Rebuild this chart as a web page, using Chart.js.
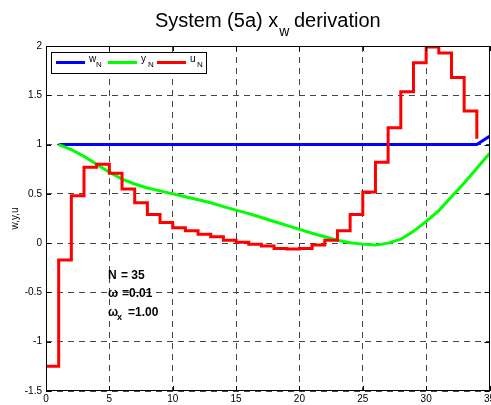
<!DOCTYPE html>
<html>
<head>
<meta charset="utf-8">
<script src="https://cdn.jsdelivr.net/npm/chart.js@4.4.1/dist/chart.umd.min.js"></script>
<style>
  body { margin: 0; background: #fff; }
  #wrap { width: 491px; height: 405px; }
</style>
</head>
<body>
<div id="wrap"><canvas id="sysChart" width="491" height="405"></canvas></div>
<script>
// Data
const uSteps = [0,1,2,3,4,5,6,7,8,9,10,11,12,13,14,15,16,17,18,19,20,21,22,23,24,25,26,27,28,29,30,31,32,33,34];
const uValues = [-1.25,-0.17,0.48,0.77,0.80,0.71,0.55,0.41,0.29,0.21,0.155,0.125,0.09,0.064,0.03,0.01,-0.01,-0.03,-0.054,-0.06,
                 -0.054,-0.02,0.03,0.125,0.29,0.52,0.82,1.17,1.535,1.83,1.99,1.93,1.68,1.34,1.06];
const ySteps = [1,2,3,4,5,6,7,8,9,10,11,12,13,14,15,16,17,18,19,20,21,22,23,24,25,26,27,28,29,30,31,32,33,34,35];
const wValues = [1,1,1,1,1,1,1,1,1,1,1,1,1,1,1,1,1,1,1,1,1,1,1,1,1,1,1,1,1,1,1,1,1,1,1.085];
const yValues = [1.0,0.95,0.88,0.80,0.72,0.65,0.60,0.56,0.53,0.50,0.47,0.44,0.41,0.37,0.335,0.30,0.26,0.22,0.18,0.14,
                 0.10,0.065,0.03,0.005,-0.01,-0.02,0.0,0.04,0.12,0.22,0.33,0.47,0.61,0.76,0.91];
const xTicks = [0,5,10,15,20,25,30,35];
const yTicks = [-1.5,-1,-0.5,0,0.5,1,1.5,2];

const toPoints = (xs, vs) => xs.map((x, i) => ({ x: x, y: vs[i] }));
const FONT = 'Arial, "Liberation Sans", sans-serif';

// Frame, inside ticks, title, axis label, legend and annotation text
const decorations = {
    id: 'decorations',
    afterDatasetsDraw(chart) {
        const { ctx, chartArea: a, scales } = chart;
        ctx.save();
        ctx.strokeStyle = '#000';
        ctx.lineWidth = 1;
        ctx.setLineDash([]);
        ctx.strokeRect(Math.round(a.left) + 0.5, Math.round(a.top) + 0.5,
                       Math.round(a.right - a.left) - 1, Math.round(a.bottom - a.top) - 1);
        ctx.beginPath();
        xTicks.forEach(v => {
            const px = Math.round(scales.x.getPixelForValue(v)) + 0.5;
            ctx.moveTo(px, a.bottom); ctx.lineTo(px, a.bottom - 5);
            ctx.moveTo(px, a.top); ctx.lineTo(px, a.top + 5);
        });
        yTicks.forEach(v => {
            const py = Math.round(scales.y.getPixelForValue(v)) + 0.5;
            ctx.moveTo(a.left, py); ctx.lineTo(a.left + 5, py);
            ctx.moveTo(a.right, py); ctx.lineTo(a.right - 5, py);
        });
        ctx.stroke();

        // legend
        const lx = 51, ly = 52, lw = 155, lh = 21;
        ctx.fillStyle = '#fff';
        ctx.fillRect(lx, ly, lw, lh);
        ctx.strokeRect(lx + 0.5, ly + 0.5, lw, lh);
        const entries = [
            { color: '#0000ff', x0: 56, label: 'w' },
            { color: '#00ff00', x0: 108, label: 'y' },
            { color: '#ff0000', x0: 157, label: 'u' }
        ];
        entries.forEach(e => {
            ctx.strokeStyle = e.color;
            ctx.lineWidth = 3;
            ctx.beginPath();
            ctx.moveTo(e.x0, ly + 10.5);
            ctx.lineTo(e.x0 + 29, ly + 10.5);
            ctx.stroke();
            ctx.fillStyle = '#000';
            ctx.textAlign = 'left';
            ctx.textBaseline = 'alphabetic';
            ctx.font = '10px ' + FONT;
            ctx.fillText(e.label, e.x0 + 33, ly + 10);
            ctx.font = '8px ' + FONT;
            ctx.fillText('N', e.x0 + 40, ly + 15);
        });

        // title
        ctx.fillStyle = '#000';
        ctx.font = '20px ' + FONT;
        ctx.textAlign = 'left';
        const t1 = 'System (5a) x', t2 = 'derivation';
        ctx.font = '20px ' + FONT;
        const w1 = ctx.measureText(t1).width;
        const w3 = ctx.measureText(' ' + t2).width;
        ctx.font = '14px ' + FONT;
        const w2 = ctx.measureText('w').width;
        const tx = (a.left + a.right) / 2 - (w1 + w2 + w3) / 2;
        ctx.font = '20px ' + FONT;
        ctx.fillText(t1, tx, 27);
        ctx.fillText(' ' + t2, tx + w1 + w2, 27);
        ctx.font = '14px ' + FONT;
        ctx.fillText('w', tx + w1 + 1, 36);

        // y axis label
        ctx.save();
        ctx.translate(18, (a.top + a.bottom) / 2);
        ctx.rotate(-Math.PI / 2);
        ctx.textAlign = 'center';
        ctx.font = '10px ' + FONT;
        ctx.fillText('w,y,u', 0, 0);
        ctx.restore();

        // annotation text
        ctx.textAlign = 'left';
        ctx.font = 'bold 12px ' + FONT;
        ctx.fillText('N', 108, 279);
        ctx.fillText('= 35', 121, 279);
        ctx.fillText('\u03c9', 108, 297);
        ctx.fillText('=0.01', 122, 297);
        ctx.fillText('\u03c9', 108, 316);
        ctx.fillText('=1.00', 128, 316);
        ctx.font = 'bold 9px ' + FONT;
        ctx.fillText('x', 117, 320);
        ctx.restore();
    }
};

const ctx = document.getElementById('sysChart').getContext('2d');
new Chart(ctx, {
    type: 'line',
    data: {
        datasets: [
            { label: 'wN', data: toPoints(ySteps, wValues), borderColor: '#0000ff', borderWidth: 3, order: 3 },
            { label: 'yN', data: toPoints(ySteps, yValues), borderColor: '#00ff00', borderWidth: 3, order: 2 },
            { label: 'uN', data: toPoints(uSteps, uValues), borderColor: '#ff0000', borderWidth: 3, stepped: 'before', order: 1 }
        ]
    },
    options: {
        responsive: false,
        animation: false,
        devicePixelRatio: 1,
        pointRadius: 0,
        elements: { point: { radius: 0 }, line: { tension: 0, borderJoinStyle: 'miter' } },
        layout: { padding: { top: 46, right: 1.5, bottom: 0, left: 0 } },
        plugins: {
            legend: { display: false },
            tooltip: { enabled: false }
        },
        scales: {
            x: {
                type: 'linear',
                min: 0,
                max: 35,
                afterBuildTicks: s => { s.ticks = xTicks.map(v => ({ value: v })); },
                afterFit: s => { s.height = 14; s.paddingLeft = 0; s.paddingRight = 0; },
                ticks: { font: { size: 10, family: FONT }, color: '#000', padding: 2, maxRotation: 0, autoSkip: false },
                grid: { color: '#444', lineWidth: 1, drawTicks: false },
                border: { display: false, dash: [6, 5] }
            },
            y: {
                min: -1.5,
                max: 2,
                afterBuildTicks: s => { s.ticks = yTicks.map(v => ({ value: v })); },
                afterFit: s => { s.width = 46; s.paddingTop = 0; s.paddingBottom = 0; },
                ticks: { font: { size: 10, family: FONT }, color: '#000', padding: 4, autoSkip: false,
                         callback: v => String(v) },
                grid: { color: '#444', lineWidth: 1, drawTicks: false },
                border: { display: false, dash: [6, 5] }
            }
        }
    },
    plugins: [decorations]
});
</script>
</body>
</html>
